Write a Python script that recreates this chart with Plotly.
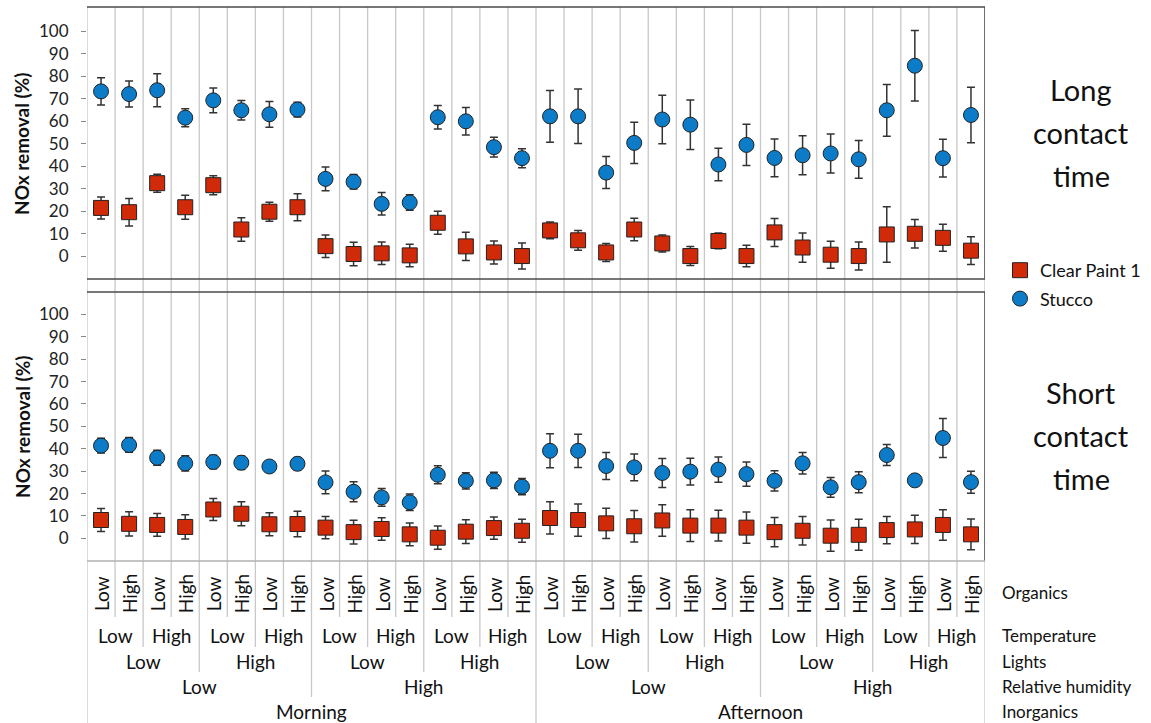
import plotly.graph_objects as go

# Figure size in pixels
W, H = 1151, 723

# Experimental factor levels (innermost first)
organics = ["Low", "High"]
temperature = ["Low", "High"]
lights = ["Low", "High"]
humidity = ["Low", "High"]
inorganics = ["Morning", "Afternoon"]
factor_names = ["Organics", "Temperature", "Lights", "Relative humidity", "Inorganics"]

# NOx removal (%) — long contact time
stucco_long = [73.2, 72.0, 73.7, 61.5, 69.2, 64.8, 63.0, 65.1, 34.3, 33.0, 23.2, 23.8,
               61.7, 59.9, 48.4, 43.5, 62.1, 62.1, 37.1, 50.3, 60.7, 58.4, 40.7, 49.4,
               43.6, 44.8, 45.6, 43.0, 64.8, 84.6, 43.5, 62.7]
stucco_long_err = [6.1, 5.8, 7.3, 4.0, 5.5, 4.3, 5.7, 3.3, 5.3, 3.2, 5.0, 3.4,
                   5.2, 6.1, 4.4, 4.2, 11.5, 12.1, 7.1, 9.2, 10.8, 11.0, 7.2, 9.2,
                   8.4, 8.7, 8.7, 8.4, 11.5, 15.7, 8.4, 12.3]
paint_long = [21.4, 19.5, 32.4, 21.7, 31.5, 11.8, 19.7, 21.7, 4.4, 0.9, 1.2, 0.3,
              14.8, 4.3, 1.6, 0.0, 11.4, 7.0, 1.6, 11.8, 5.6, 0.0, 6.7, 0.0,
              10.5, 3.8, 0.6, 0.0, 9.6, 9.9, 8.1, 2.4]
paint_long_err = [4.9, 6.1, 4.0, 5.3, 4.2, 5.2, 4.2, 6.0, 5.0, 5.2, 5.0, 5.0,
                  5.1, 6.3, 5.1, 5.8, 3.7, 4.4, 4.0, 5.0, 3.8, 4.2, 3.5, 4.8,
                  6.2, 6.5, 6.0, 6.2, 12.3, 6.3, 6.0, 6.2]

# NOx removal (%) — short contact time
stucco_short = [41.4, 41.7, 36.0, 33.5, 34.1, 33.8, 32.1, 33.3, 25.0, 20.8, 18.3, 16.1,
                28.4, 25.7, 25.9, 23.1, 39.1, 39.1, 32.3, 31.7, 29.2, 29.8, 30.7, 28.7,
                25.7, 33.5, 22.8, 25.1, 37.2, 25.9, 44.8, 25.1]
stucco_short_err = [3.3, 3.3, 3.4, 3.4, 3.0, 3.0, 1.5, 2.8, 5.1, 4.5, 4.0, 3.7,
                    4.0, 3.6, 3.6, 3.6, 7.6, 7.4, 6.0, 6.0, 6.5, 6.0, 5.6, 5.4,
                    4.5, 4.8, 4.4, 4.7, 4.7, 0.5, 8.7, 4.9]
paint_short = [8.2, 6.5, 6.0, 5.1, 12.9, 11.0, 6.3, 6.4, 4.8, 2.8, 4.2, 1.8,
               0.3, 3.0, 4.6, 3.4, 9.1, 8.2, 6.7, 5.4, 8.0, 5.7, 5.7, 4.8,
               2.8, 3.4, 1.2, 1.6, 3.7, 4.0, 6.0, 1.8]
paint_short_err = [5.1, 5.4, 5.1, 5.4, 4.9, 5.4, 5.1, 5.7, 5.0, 5.3, 5.0, 5.1,
                   5.2, 5.3, 5.0, 5.1, 7.2, 7.2, 6.8, 7.0, 7.0, 7.1, 6.9, 7.0,
                   6.5, 6.4, 7.0, 6.9, 6.1, 6.3, 6.8, 6.9]

n = len(stucco_long)
xs = list(range(1, n + 1))

FONT = "Lato, 'Open Sans', sans-serif"
RED = "#d02a08"
BLUE = "#0c7cc8"
EDGE = "#222222"
ERR = "#333333"
GRID = "#c8c8c8"
DARK = "#4a4a4a"


def px(v):
    return v / W


def py(v):
    return 1 - v / H


# plot area in pixels
X0, X1 = 87, 985
TOP = (7, 279)
BOT = (292, 561)

fig = go.Figure()


def add_series(y, err, name, color, symbol, xa, ya, show):
    fig.add_trace(go.Scatter(
        x=xs, y=y, mode="markers", name=name,
        xaxis=xa, yaxis=ya, showlegend=show, legendgroup=name,
        marker=dict(symbol=symbol, size=15, color=color,
                    line=dict(color=EDGE, width=1)),
        error_y=dict(type="data", array=err, visible=True,
                     color=ERR, thickness=1.5, width=4),
    ))


add_series(paint_long, paint_long_err, "Clear Paint 1", RED, "square", "x", "y", True)
add_series(stucco_long, stucco_long_err, "Stucco", BLUE, "circle", "x", "y", True)
add_series(paint_short, paint_short_err, "Clear Paint 1", RED, "square", "x2", "y2", False)
add_series(stucco_short, stucco_short_err, "Stucco", BLUE, "circle", "x2", "y2", False)

yax = dict(tickvals=list(range(0, 101, 10)), ticks="outside", ticklen=5,
           tickcolor="#888888", tickwidth=1, showgrid=False, zeroline=False,
           showline=False, tickfont=dict(family=FONT, size=17, color="#222222"),
           ticklabelstandoff=9)
xax = dict(range=[0.5, n + 0.5], visible=False, domain=[px(X0), px(X1)])

fig.update_layout(
    width=W, height=H,
    margin=dict(l=0, r=0, t=0, b=0),
    paper_bgcolor="white", plot_bgcolor="white",
    font=dict(family=FONT, color="#111111"),
    xaxis=dict(xax, anchor="y"),
    xaxis2=dict(xax, anchor="y2"),
    yaxis=dict(yax, range=[-10.2, 110.7], domain=[py(TOP[1]), py(TOP[0])], anchor="x"),
    yaxis2=dict(yax, range=[-10.1, 110.0], domain=[py(BOT[1]), py(BOT[0])], anchor="x2"),
    legend=dict(x=px(1000), y=py(252), xanchor="left", yanchor="top",
                font=dict(family=FONT, size=18, color="#111111"),
                traceorder="grouped", tracegroupgap=2,
                bgcolor="rgba(0,0,0,0)", itemclick=False),
)

shapes = []


def vline(xv, y_from, y_to, color, width=1.3):
    shapes.append(dict(type="line", xref="x", yref="paper", x0=xv, x1=xv,
                       y0=py(y_from), y1=py(y_to), line=dict(color=color, width=width),
                       layer="below"))


def hline(yv, color, width=1.3):
    shapes.append(dict(type="line", xref="x", yref="paper", x0=0.5, x1=n + 0.5,
                       y0=py(yv), y1=py(yv), line=dict(color=color, width=width),
                       layer="below"))


# column separators, longer where a higher-level factor changes
for k in range(1, n):
    if k % 16 == 0:
        depth = H
    elif k % 8 == 0:
        depth = 697
    elif k % 4 == 0:
        depth = 672
    elif k % 2 == 0:
        depth = 647
    else:
        depth = 617
    vline(k + 0.5, TOP[0], depth, GRID)

# outer frame
vline(0.5, TOP[0], H, GRID)
vline(n + 0.5, TOP[0], H, GRID)
vline(n + 0.5, TOP[0], TOP[1], DARK, 1.5)
vline(n + 0.5, BOT[0], BOT[1], DARK, 1.5)
hline(TOP[0], DARK, 1.5)
hline(TOP[1], DARK, 1.5)
hline(BOT[0], DARK, 1.5)
hline(BOT[1], "#b0b0b0", 1.3)

fig.update_layout(shapes=shapes)

ann = []
LBL = dict(family=FONT, size=19, color="#111111")

# Organics (rotated, one per column)
for i in xs:
    ann.append(dict(x=i, y=py(594), xref="x", yref="paper", text=organics[(i - 1) % 2],
                    textangle=-90, showarrow=False, xanchor="center", yanchor="middle",
                    font=LBL))

# Higher-level factor rows
rows = [(temperature, 2, 635), (lights, 4, 661), (humidity, 8, 686), (inorganics, 16, 711)]
for levels, span, ypos in rows:
    for g in range(n // span):
        xc = g * span + (span + 1) / 2
        ann.append(dict(x=xc, y=py(ypos), xref="x", yref="paper",
                        text=levels[g % len(levels)], showarrow=False,
                        xanchor="center", yanchor="middle", font=LBL))

# factor names on the right
for name, ypos in zip(factor_names, [592, 635, 661, 686, 711]):
    ann.append(dict(x=px(1000), y=py(ypos), xref="paper", yref="paper", text=name,
                    showarrow=False, xanchor="left", yanchor="middle",
                    font=dict(family=FONT, size=17, color="#111111")))

# y-axis titles
for yc in [144, 427]:
    ann.append(dict(x=px(22), y=py(yc), xref="paper", yref="paper",
                    text="<b>NOx removal (%)</b>", textangle=-90, showarrow=False,
                    xanchor="center", yanchor="middle",
                    font=dict(family=FONT, size=19, color="#111111")))

# panel titles
for words, ys in [(["Long", "contact", "time"], [89, 132, 175]),
                  (["Short", "contact", "time"], [392, 435, 478])]:
    for w, yv in zip(words, ys):
        ann.append(dict(x=px(1081), y=py(yv), xref="paper", yref="paper", text=w,
                        showarrow=False, xanchor="center", yanchor="middle",
                        font=dict(family=FONT, size=29, color="#111111")))

fig.update_layout(annotations=ann)

fig.write_html("out.html")
